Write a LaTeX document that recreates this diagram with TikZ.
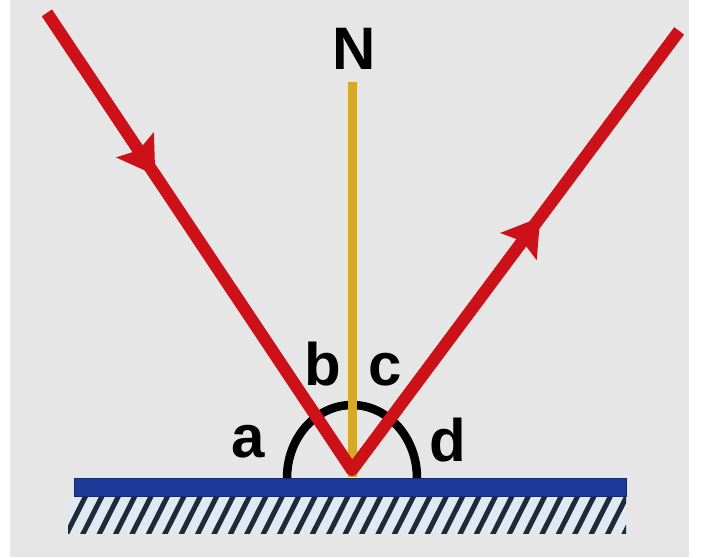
\documentclass[tikz,border=0pt]{standalone}
\usepackage{fontspec}
\setmainfont{Liberation Sans}
\usetikzlibrary{arrows.meta,decorations.markings}
\definecolor{bggray}{RGB}{230,230,231}
\definecolor{rayred}{RGB}{204,18,24}
\definecolor{normalgold}{RGB}{214,170,40}
\definecolor{barblue}{RGB}{30,58,152}
\definecolor{hatchbg}{RGB}{222,233,242}
\definecolor{hatchline}{RGB}{30,42,58}
\tikzset{
  ray/.style={draw=rayred, line width=12pt, line join=round, line cap=butt},
  arrowat/.style={postaction={decorate, decoration={markings,
     mark=at position #1 with {\arrow{Stealth[length=36pt,width=44pt,inset=6pt,fill=rayred,color=rayred]}}}}},
  normalline/.style={draw=normalgold, line width=9pt},
  lbl/.style={font=\fontsize{60}{60}\selectfont\bfseries, text=black, inner sep=0pt, anchor=base},
  anglearc/.style={draw=black, line width=8.5pt}
}
\begin{document}
\begin{tikzpicture}[x=1pt,y=1pt]
\useasboundingbox (0,0) rectangle (703,557);
\fill[white] (0,0) rectangle (703,557);
\fill[bggray] (10,0) rectangle (689,557);
% surface hatching
\fill[hatchbg] (68,24) rectangle (626,60);
\begin{scope}
  \clip (68,24) rectangle (626,60);
  \foreach \i in {0,...,35} {
    \draw[hatchline, line width=5pt] (66+\i*16.4,22) -- ++(20.2,40);
  }
\end{scope}
% mirror
\node[fill=barblue, draw=barblue!70!black, line width=0.8pt, minimum width=552pt, minimum height=18pt, inner sep=0pt, anchor=south west] (mirror) at (74,60) {};
% points
\coordinate (A) at (47,544);
\coordinate (O) at (352,87);
\coordinate (B) at (679,526);
\coordinate (T) at (352.5,475);
% angle arc
\draw[anglearc] (287,79) arc[start angle=180, end angle=0, x radius=65, y radius=73];
% normal
\draw[normalline] (T) -- (352.5,80);
% rays
\draw[ray, arrowat=0.355] (A) -- (O);
\draw[ray, arrowat=0.576] (O) -- (B);
\draw[ray] (A) -- (O) -- (B);
% labels
\node[lbl] (N) at (354.5,487) {N};
\node[lbl] (la) at (248.5,100) {a};
\node[lbl] (lb) at (322.5,172) {b};
\node[lbl] (lc) at (385.5,172) {c};
\node[lbl] (ld) at (447.5,96) {d};
\end{tikzpicture}
\end{document}
